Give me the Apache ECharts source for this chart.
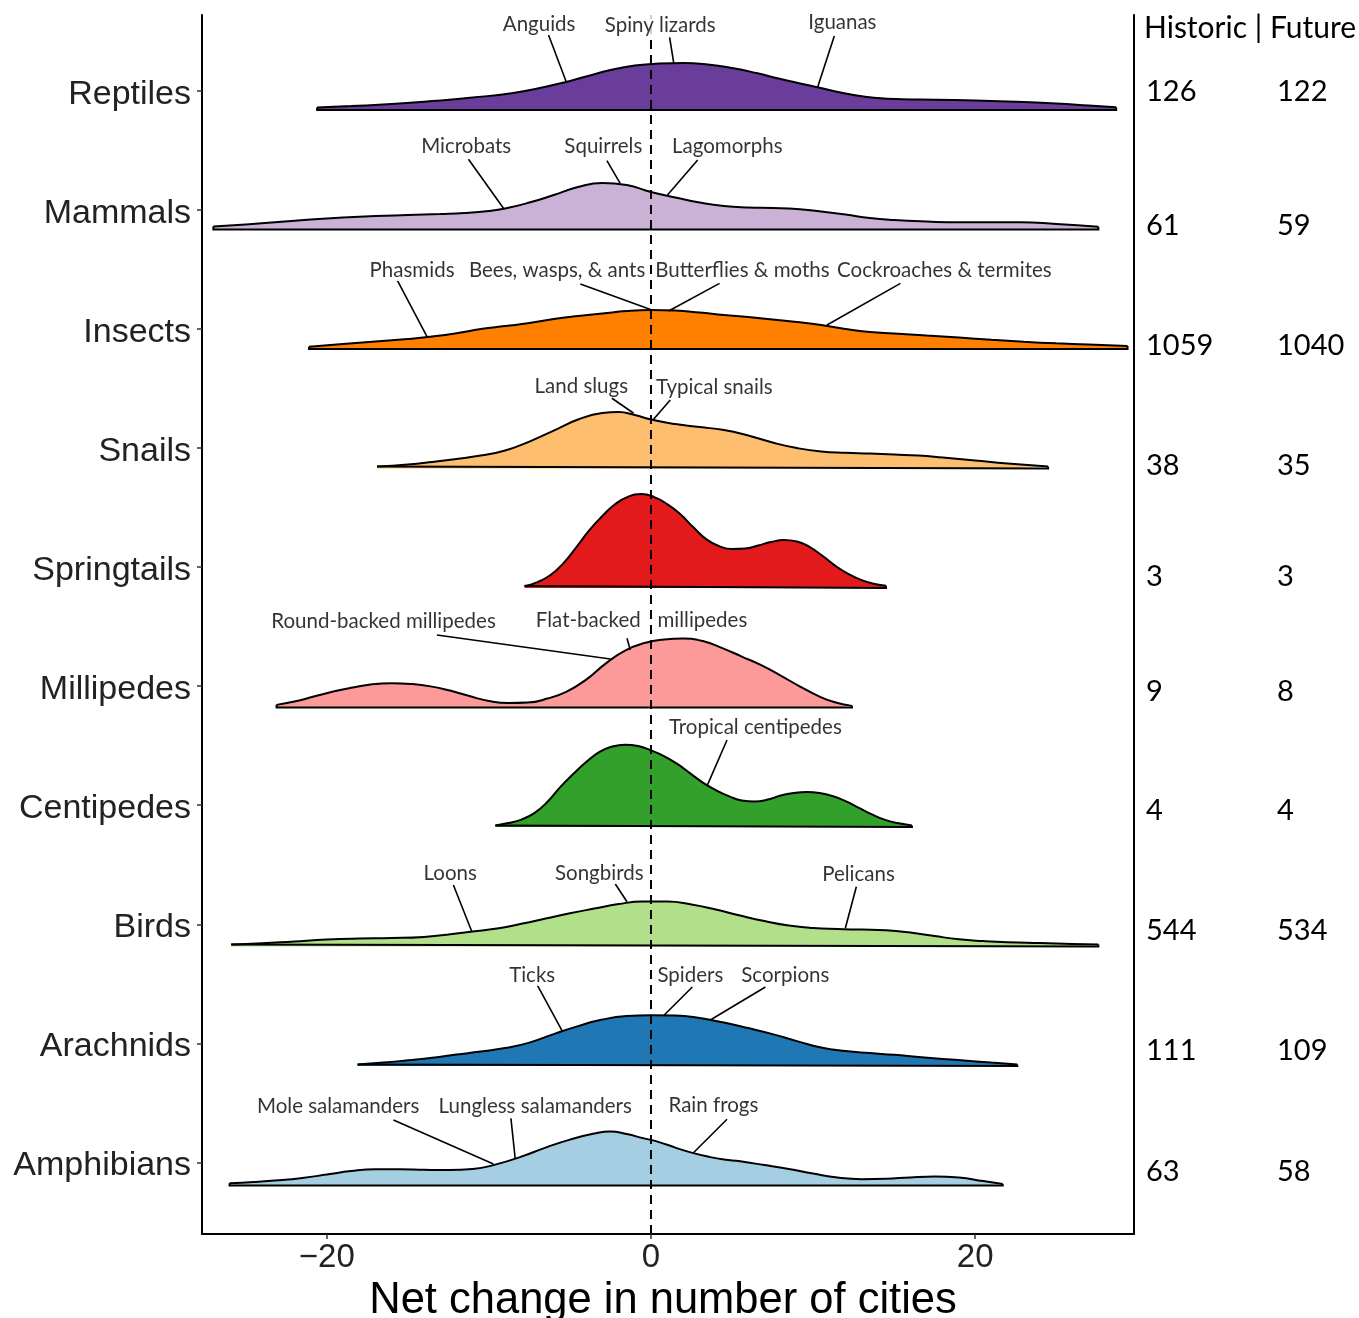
<!DOCTYPE html>
<html>
<head>
<meta charset="utf-8">
<script src="https://cdn.jsdelivr.net/npm/echarts@6/dist/echarts.min.js"></script>
<style>html,body{margin:0;padding:0;background:#fff;overflow:hidden}#chart{width:1359px;height:1318px}</style>
</head>
<body>
<div id="chart"></div>
<script>
// ---------- data ----------
const categories = ['Reptiles','Mammals','Insects','Snails','Springtails','Millipedes','Centipedes','Birds','Arachnids','Amphibians'];
const historic = [126, 61, 1059, 38, 3, 9, 4, 544, 111, 63];
const future   = [122, 59, 1040, 35, 3, 8, 4, 534, 109, 58];
const xTicks = [-20, 0, 20];

// density curves: [net change, density]
const reptiles = [[-20.6,.0025],[-18.5,.004],[-16,.006],[-13.5,.009],[-11,.0125],[-8.5,.017],[-7,.0215],[-5.5,.027],[-4,.0335],[-2.5,.040],[-1,.0445],[0.5,.0465],[2,.047],[3.5,.0455],[5,.042],[6.5,.037],[8,.031],[9.5,.0255],[11,.020],[12.5,.015],[14,.012],[15.5,.0108],[17.5,.0103],[20,.0095],[22.5,.0083],[25,.0065],[27,.0045],[28.7,.0027]];
const mammals = [[-27,.003],[-25,.005],[-23,.0075],[-21,.010],[-19,.012],[-17,.0135],[-15,.0145],[-13,.0155],[-11.5,.0165],[-10,.0185],[-9,.021],[-7.5,.027],[-6,.0345],[-4.5,.0425],[-3,.0465],[-1.5,.0445],[0,.0375],[1.5,.032],[3,.027],[4.5,.0235],[6,.022],[7.5,.0215],[9,.0205],[10.5,.018],[12,.015],[13.5,.0115],[15,.0095],[17,.008],[19,.0072],[21,.0072],[22.8,.0073],[25,.0055],[27.6,.0027]];
const insects = [[-21.1,.0023],[-19,.005],[-17,.0075],[-15,.010],[-13.5,.0125],[-12,.0158],[-10.5,.020],[-9,.023],[-7.5,.026],[-6,.030],[-4.5,.033],[-3,.0355],[-1.5,.038],[0,.039],[1.5,.0385],[3,.0365],[4.5,.034],[6,.032],[7.5,.0295],[9,.027],[10.5,.024],[12,.020],[13.5,.017],[15,.0155],[17,.0135],[19,.0115],[21,.0093],[23,.0073],[25,.0057],[27,.0045],[29.4,.003]];
const snails = [[-16.9,.002],[-15,.004],[-13.5,.0065],[-12,.0095],[-10.5,.013],[-9,.018],[-7.5,.027],[-6,.038],[-4.5,.049],[-3,.0555],[-2,.0565],[-1,.0535],[0,.049],[1.5,.0445],[3,.0415],[4.5,.0385],[6,.033],[7.5,.026],[9,.0205],[10.5,.017],[12,.0157],[13.5,.015],[15,.014],[16.5,.013],[18,.011],[20,.008],[22,.005],[24.5,.002]];
const springtails = [[-7.8,.002],[-7,.006],[-6.2,.013],[-5.4,.025],[-4.6,.041],[-3.8,.058],[-3,.072],[-2.2,.084],[-1.4,.0915],[-0.6,.094],[0.2,.091],[1,.084],[1.8,.074],[2.6,.061],[3.4,.049],[4.2,.042],[5,.039],[5.8,.0395],[6.6,.0425],[7.4,.046],[8.2,.048],[9,.0465],[9.8,.041],[10.6,.032],[11.4,.022],[12.2,.014],[13,.008],[13.8,.004],[14.5,.0023]];
const millipedes = [[-23.1,.0027],[-22,.006],[-20.8,.011],[-19.6,.016],[-18.4,.020],[-17.2,.0233],[-16,.0244],[-14.8,.0236],[-13.6,.0212],[-12.4,.017],[-11.2,.0115],[-10,.0066],[-8.8,.0045],[-7.6,.005],[-6.4,.009],[-5.2,.016],[-4,.028],[-2.8,.044],[-1.6,.057],[-0.4,.0645],[0.8,.068],[2,.069],[3.2,.0665],[4.4,.0595],[5.6,.051],[6.8,.0425],[8,.032],[9.2,.021],[10.4,.011],[11.4,.005],[12.4,.0017]];
const centipedes = [[-9.6,.0017],[-8.8,.004],[-8,.0075],[-7.2,.014],[-6.4,.025],[-5.6,.040],[-4.8,.053],[-4,.065],[-3.2,.075],[-2.4,.0805],[-1.6,.0824],[-0.8,.081],[0,.0767],[0.8,.071],[1.6,.0634],[2.4,.054],[3.2,.0445],[4,.037],[4.8,.031],[5.6,.0265],[6.4,.0255],[7.2,.0275],[8,.0315],[8.8,.034],[9.6,.035],[10.4,.034],[11.2,.031],[12,.026],[12.8,.0195],[13.6,.013],[14.4,.0075],[15.2,.004],[16.1,.0017]];
const birds = [[-25.9,.002],[-24,.0033],[-22,.0052],[-20,.007],[-18,.008],[-16,.0085],[-14,.0097],[-12.5,.0122],[-11,.015],[-9.5,.018],[-8,.0228],[-6.5,.028],[-5,.0333],[-3.5,.038],[-2,.0425],[-0.5,.045],[1,.045],[2.5,.042],[4,.037],[5.5,.031],[7,.0255],[8.5,.021],[10,.0185],[11.5,.0175],[13,.017],[14.5,.0163],[16,.014],[17.5,.0105],[19,.0073],[20.5,.0055],[22,.0043],[24,.0035],[26,.0027],[27.6,.002]];
const arachnids = [[-18.1,.0017],[-16.5,.0035],[-15,.0058],[-13.5,.0083],[-12,.0115],[-10.5,.0145],[-9,.018],[-7.5,.0235],[-6,.032],[-4.5,.040],[-3,.0465],[-1.5,.050],[0,.0508],[1.5,.0505],[3,.048],[4.5,.0435],[6,.038],[7.5,.032],[9,.025],[10.5,.0185],[12,.015],[13.5,.013],[15,.0113],[16.5,.0092],[18,.0072],[19.5,.0053],[21,.0035],[22.6,.0017]];
const amphibians = [[-26,.0024],[-24.5,.0036],[-23,.0053],[-21.5,.0077],[-20,.011],[-18.5,.0145],[-17,.0163],[-15.5,.0164],[-14,.0158],[-12.5,.0155],[-11,.0165],[-9.5,.0215],[-8,.029],[-6.5,.038],[-5,.046],[-3.5,.052],[-2.5,.054],[-1.5,.0515],[-0.5,.0475],[0.5,.0435],[1.5,.038],[2.5,.033],[3.5,.029],[4.5,.026],[5.5,.0243],[7,.0205],[8.5,.0165],[10,.012],[11.5,.008],[13,.0064],[14.5,.0068],[16,.0082],[17.5,.009],[19,.008],[20.5,.0045],[21.7,.0017]];
const ridges = [reptiles, mammals, insects, snails, springtails, millipedes, centipedes, birds, arachnids, amphibians];

// annotation labels [x, y, text] and leader lines [x1, y1, x2, y2] (data units)
const annoLabels = [
  [-6.9,10.56,'Anguids'],[0.57,10.55,'Spiny lizards'],[11.81,10.57,'Iguanas'],
  [-11.4,9.53,'Microbats'],[-2.94,9.53,'Squirrels'],[4.71,9.535,'Lagomorphs'],
  [-14.74,8.49,'Phasmids'],[-5.79,8.49,'Bees, wasps, & ants'],[5.64,8.49,'Butterflies & moths'],[18.1,8.49,'Cockroaches & termites'],
  [-4.30,7.52,'Land slugs'],[3.91,7.51,'Typical snails'],
  [-16.5,5.54,'Round-backed millipedes'],[-3.87,5.55,'Flat-backed'],[3.17,5.55,'millipedes'],
  [6.44,4.65,'Tropical centipedes'],
  [-12.39,3.43,'Loons'],[-3.19,3.43,'Songbirds'],[12.8,3.42,'Pelicans'],
  [-7.33,2.57,'Ticks'],[2.43,2.57,'Spiders'],[8.29,2.57,'Scorpions'],
  [-19.3,1.47,'Mole salamanders'],[-7.14,1.47,'Lungless salamanders'],[3.85,1.48,'Rain frogs']
];
const annoLines = [
  [-6.32,10.467,-5.23,10.075],[1.15,10.448,1.40,10.235],[11.31,10.459,10.28,10.028],
  [-11.26,9.424,-9.10,9.012],[-2.72,9.412,-1.90,9.222],[2.88,9.418,1.02,9.124],
  [-15.64,8.404,-13.81,7.932],[-4.36,8.376,0.06,8.158],[4.23,8.382,1.09,8.150],[15.39,8.382,10.86,8.032],
  [-2.41,7.417,-1.07,7.291],[1.19,7.403,0.16,7.240],
  [-13.21,5.429,-2.51,5.228],[-1.48,5.402,-1.28,5.303],
  [4.69,4.548,3.46,4.162],
  [-12.19,3.330,-11.05,2.938],[-2.20,3.339,-1.48,3.190],[12.67,3.316,11.99,2.967],
  [-7.02,2.491,-5.49,2.107],[2.55,2.474,0.82,2.239],[7.06,2.474,3.66,2.197],
  [-15.89,1.357,-9.72,0.988],[-8.64,1.371,-8.38,1.036],[4.69,1.363,2.59,1.078]
];

// ---------- layout / style ----------
const colors = ['#6a3d9a','#cab2d6','#ff7f00','#fdbf6f','#e31a1c','#fb9a99','#33a02c','#b2df8a','#1f78b4','#a6cee3'];
const X_MIN = -27.7, X_MAX = 29.8, Y_MIN = 0.4, Y_MAX = 10.635;
const HEIGHT_SCALE = 8.396;             // rows per density unit
const baseOf = i => 9.837 - 1.0034 * i; // ridge baseline in row units
const tableRowY = [92, 226, 346, 466, 577, 692, 811, 931, 1051, 1172];
const annoFont = 'Lato, "Open Sans", sans-serif';
const axisFont = '"Liberation Sans", Arial, sans-serif';

const series = [];
ridges.forEach((pts, i) => {
  const base = baseOf(i);
  const first = pts[0], last = pts[pts.length - 1];
  series.push({
    type: 'line', name: categories[i],
    data: pts.map(p => [p[0], base + p[1] * HEIGHT_SCALE]),
    smooth: 0.5, symbol: 'none', silent: true,
    lineStyle: { color: '#000', width: 2 },
    areaStyle: { color: colors[i], opacity: 1, origin: base },
    z: 2, animation: false
  });
  series.push({
    type: 'line', silent: true, symbol: 'none', z: 2, animation: false,
    data: [[first[0], base + first[1] * HEIGHT_SCALE], [first[0], base], [last[0], base], [last[0], base + last[1] * HEIGHT_SCALE]],
    lineStyle: { color: '#000', width: 2, join: 'miter' }
  });
});
series.push({
  type: 'line', data: [[0, Y_MIN], [0, Y_MAX]], symbol: 'none', silent: true,
  lineStyle: { color: '#000', width: 2, type: [9, 6] }, z: 3, animation: false
});
series.push({
  type: 'custom', silent: true, z: 4, animation: false,
  data: annoLines, encode: { x: [0, 2], y: [1, 3] },
  renderItem: (params, api) => {
    const p1 = api.coord([api.value(0), api.value(1)]);
    const p2 = api.coord([api.value(2), api.value(3)]);
    return { type: 'line', shape: { x1: p1[0], y1: p1[1], x2: p2[0], y2: p2[1] }, style: { stroke: '#000', lineWidth: 1.6 } };
  }
});
series.push({
  type: 'scatter', silent: true, z: 5, animation: false, symbolSize: 0,
  data: annoLabels.map(a => ({ value: [a[0], a[1]], name: a[2] })),
  label: { show: true, position: 'inside', formatter: '{b}', color: '#000', fontSize: 20.5, fontFamily: annoFont, backgroundColor: '#fff', padding: [0, 1] }
});

const graphic = [{ type: 'text', x: 1144, y: 28, style: { text: 'Historic | Future', fontSize: 30, fontFamily: annoFont, fill: '#000', verticalAlign: 'middle', align: 'left' } }];
categories.forEach((c, i) => {
  graphic.push({ type: 'text', x: 1146, y: tableRowY[i], style: { text: String(historic[i]), fontSize: 29, fontFamily: annoFont, fill: '#000', verticalAlign: 'middle' } });
  graphic.push({ type: 'text', x: 1277, y: tableRowY[i], style: { text: String(future[i]), fontSize: 29, fontFamily: annoFont, fill: '#000', verticalAlign: 'middle' } });
});

const rowValues = categories.map((c, i) => 10 - i);
const option = {
  backgroundColor: '#fff',
  animation: false,
  grid: { left: 202, right: 225, top: 15, bottom: 84, containLabel: false, outerBoundsMode: 'none' },
  xAxis: {
    type: 'value', min: X_MIN, max: X_MAX,
    name: '{t|Net change in number of cities}', nameLocation: 'middle', nameGap: 41,
    nameTextStyle: { rich: { t: { fontSize: 43.5, color: '#000', fontFamily: axisFont, padding: [0, 10, 0, 0] } } },
    axisLine: { show: true, onZero: false, lineStyle: { color: '#000', width: 2 } },
    axisTick: { show: true, length: 5, customValues: xTicks, lineStyle: { color: '#333', width: 1.5 } },
    axisLabel: { customValues: xTicks, margin: 7, fontSize: 33, color: '#222', fontFamily: axisFont,
      formatter: v => (v < 0 ? '\u2212' + Math.abs(v) : String(v)) },
    splitLine: { show: false }
  },
  yAxis: [{
    type: 'value', min: Y_MIN, max: Y_MAX, position: 'left',
    axisLine: { show: true, onZero: false, lineStyle: { color: '#000', width: 2 } },
    axisTick: { show: true, length: 5, customValues: rowValues, lineStyle: { color: '#333', width: 1.5 } },
    axisLabel: { customValues: rowValues, margin: 11,
      rich: { c: { fontSize: 34, color: '#222', fontFamily: axisFont, padding: [7, 0, 0, 0] } },
      formatter: v => '{c|' + (categories[Math.round(10 - v)] || '') + '}' },
    splitLine: { show: false }
  }, {
    type: 'value', min: Y_MIN, max: Y_MAX, position: 'right',
    axisLine: { show: true, onZero: false, lineStyle: { color: '#000', width: 2 } },
    axisTick: { show: false }, axisLabel: { show: false }, splitLine: { show: false }
  }],
  series,
  graphic
};
const chart = echarts.init(document.getElementById('chart'), null, { renderer: 'canvas' });
chart.setOption(option);
</script>
</body>
</html>
